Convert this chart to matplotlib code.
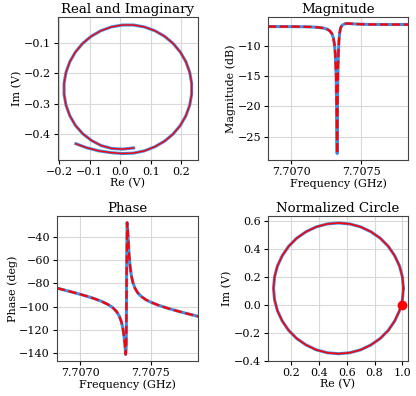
import matplotlib
matplotlib.use('Agg')
import matplotlib.pyplot as plt
from matplotlib.ticker import FormatStrFormatter

plt.rcParams['font.family'] = 'DejaVu Serif'
plt.rcParams['font.size'] = 8
plt.rcParams['axes.unicode_minus'] = True

DATA_COLOR = '#3f8ee6'
FIT_COLOR = '#ff0000'

# raw IQ trace (V)
iq_re = [-0.146, -0.111, -0.0706, -0.0317, 0.0059, 0.0430, 0.0791, 0.1132, 0.1450, 0.1730,
         0.1965, 0.2148, 0.2273, 0.2337, 0.2337, 0.2273, 0.2148, 0.1965, 0.1730, 0.1450,
         0.1132, 0.0788, 0.0428, 0.0062, -0.0298, -0.0642, -0.0960, -0.1240, -0.1475, -0.1658,
         -0.1783, -0.1847, -0.1847, -0.1783, -0.1658, -0.1475, -0.1233, -0.0945, -0.0626, -0.0280,
         0.0071, 0.0436]
iq_im = [-0.432, -0.445, -0.4554, -0.4611, -0.4642, -0.4627, -0.4553, -0.4418, -0.4235, -0.4000,
         -0.3720, -0.3402, -0.3058, -0.2698, -0.2332, -0.1972, -0.1628, -0.1310, -0.1030, -0.0795,
         -0.0612, -0.0487, -0.0423, -0.0423, -0.0487, -0.0612, -0.0795, -0.1030, -0.1310, -0.1628,
         -0.1972, -0.2332, -0.2698, -0.3058, -0.3402, -0.3720, -0.3993, -0.4215, -0.4382, -0.4476,
         -0.4497, -0.4458]

# frequency sweep (GHz), magnitude (dB), phase (deg)
freq = [7.706834, 7.706898, 7.706948, 7.706998, 7.707048, 7.707098, 7.707148, 7.707198,
        7.707231, 7.707256, 7.707276, 7.707291, 7.707301, 7.707309, 7.707315, 7.707321,
        7.707325, 7.707328, 7.707331, 7.707334, 7.707337, 7.707341, 7.707346, 7.707353,
        7.707361, 7.707371, 7.707386, 7.707406, 7.707431, 7.707464, 7.707498, 7.707548,
        7.707598, 7.707648, 7.707698, 7.707748, 7.707834]
mag_db = [-6.874, -6.871, -6.871, -6.874, -6.883, -6.901, -6.937, -7.015,
          -7.126, -7.298, -7.585, -8.058, -8.724, -9.816, -11.48, -15.25,
          -21.40, -27.80, -18.71, -13.98, -11.26, -9.20, -7.89, -7.08,
          -6.72, -6.55, -6.40, -6.36, -6.40, -6.45, -6.48, -6.51,
          -6.52, -6.53, -6.53, -6.53, -6.53]
phase_deg = [-84.0, -86.06, -87.66, -89.34, -91.12, -93.08, -95.36, -98.30,
             -101.07, -104.23, -108.28, -113.31, -118.72, -125.30, -132.16, -141.3,
             -134.1, -68.0, -27.4, -30.51, -37.06, -46.45, -56.18, -65.82,
             -72.97, -78.67, -83.88, -88.01, -91.22, -94.01, -96.14, -98.57,
             -100.62, -102.45, -104.16, -105.78, -108.4]

# normalized circle (V)
norm_re = [1.008, 1.001, 0.980, 0.945, 0.899, 0.841, 0.774, 0.700, 0.621, 0.540,
           0.459, 0.380, 0.306, 0.239, 0.181, 0.135, 0.100, 0.079, 0.072, 0.079,
           0.100, 0.135, 0.181, 0.239, 0.306, 0.380, 0.459, 0.540, 0.621, 0.700,
           0.774, 0.841, 0.899, 0.945, 0.980, 1.001, 1.008]
norm_im = [0.118, 0.199, 0.278, 0.352, 0.419, 0.477, 0.523, 0.558, 0.579, 0.586,
           0.579, 0.558, 0.523, 0.477, 0.419, 0.352, 0.278, 0.199, 0.118, 0.037,
           -0.042, -0.116, -0.183, -0.241, -0.287, -0.322, -0.343, -0.350, -0.343, -0.322,
           -0.287, -0.241, -0.183, -0.116, -0.042, 0.037, 0.118]
offres_point = (1.0, 0.0)


def style_axes(ax):
    ax.grid(True, color='#d9d9d9', linewidth=0.8)
    ax.set_axisbelow(True)
    for sp in ax.spines.values():
        sp.set_color('#444444')
        sp.set_linewidth(0.8)
    ax.tick_params(length=3, width=0.8, pad=2)


fig = plt.figure(figsize=(4.16, 3.96), dpi=100)
ax_iq = fig.add_axes([0.1387, 0.596, 0.3373, 0.3611])
ax_mag = fig.add_axes([0.6442, 0.596, 0.3365, 0.3611])
ax_ph = fig.add_axes([0.137, 0.0884, 0.339, 0.3662])
ax_nc = fig.add_axes([0.6442, 0.0884, 0.3365, 0.3662])

ax_iq.plot(iq_re, iq_im, color=DATA_COLOR, lw=2.2)
ax_iq.plot(iq_re, iq_im, color=FIT_COLOR, lw=1.0)
ax_iq.set_xlim(-0.2056, 0.2546)
ax_iq.set_ylim(-0.4853, -0.0160)
ax_iq.set_xticks([-0.2, -0.1, 0.0, 0.1, 0.2])
ax_iq.set_yticks([-0.1, -0.2, -0.3, -0.4])
ax_iq.set_title('Real and Imaginary', pad=3)
ax_iq.set_xlabel('Re (V)', labelpad=1)
ax_iq.set_ylabel('Im (V)', labelpad=1)

ax_mag.plot(freq, mag_db, color=DATA_COLOR, lw=2.2)
ax_mag.plot(freq, mag_db, color=FIT_COLOR, lw=1.6, ls='--')
ax_mag.set_xlim(freq[0], freq[-1])
ax_mag.set_xticks([7.7070, 7.7075])
ax_mag.xaxis.set_major_formatter(FormatStrFormatter('%.4f'))
ax_mag.set_yticks([-10, -15, -20, -25])
ax_mag.set_title('Magnitude', pad=3)
ax_mag.set_xlabel('Frequency (GHz)', labelpad=1)
ax_mag.set_ylabel('Magnitude (dB)', labelpad=1)

ax_ph.plot(freq, phase_deg, color=DATA_COLOR, lw=2.2)
ax_ph.plot(freq, phase_deg, color=FIT_COLOR, lw=1.6, ls='--')
ax_ph.set_xlim(freq[0], freq[-1])
ax_ph.set_xticks([7.7070, 7.7075])
ax_ph.xaxis.set_major_formatter(FormatStrFormatter('%.4f'))
ax_ph.set_yticks([-40, -60, -80, -100, -120, -140])
ax_ph.set_title('Phase', pad=3)
ax_ph.set_xlabel('Frequency (GHz)', labelpad=1)
ax_ph.set_ylabel('Phase (deg)', labelpad=1)

ax_nc.plot(norm_re, norm_im, color=DATA_COLOR, lw=2.2)
ax_nc.plot(norm_re, norm_im, color=FIT_COLOR, lw=1.2)
ax_nc.plot([offres_point[0]], [offres_point[1]], 'o', color=FIT_COLOR, ms=6)
ax_nc.set_xlim(0.032, 1.041)
ax_nc.set_ylim(-0.402, 0.636)
ax_nc.set_xticks([0.2, 0.4, 0.6, 0.8, 1.0])
ax_nc.set_yticks([-0.4, -0.2, 0.0, 0.2, 0.4, 0.6])
ax_nc.set_title('Normalized Circle', pad=3)
ax_nc.set_xlabel('Re (V)', labelpad=1)
ax_nc.set_ylabel('Im (V)', labelpad=1)

for ax in (ax_iq, ax_mag, ax_ph, ax_nc):
    style_axes(ax)

fig.savefig('out.png', dpi=100)
